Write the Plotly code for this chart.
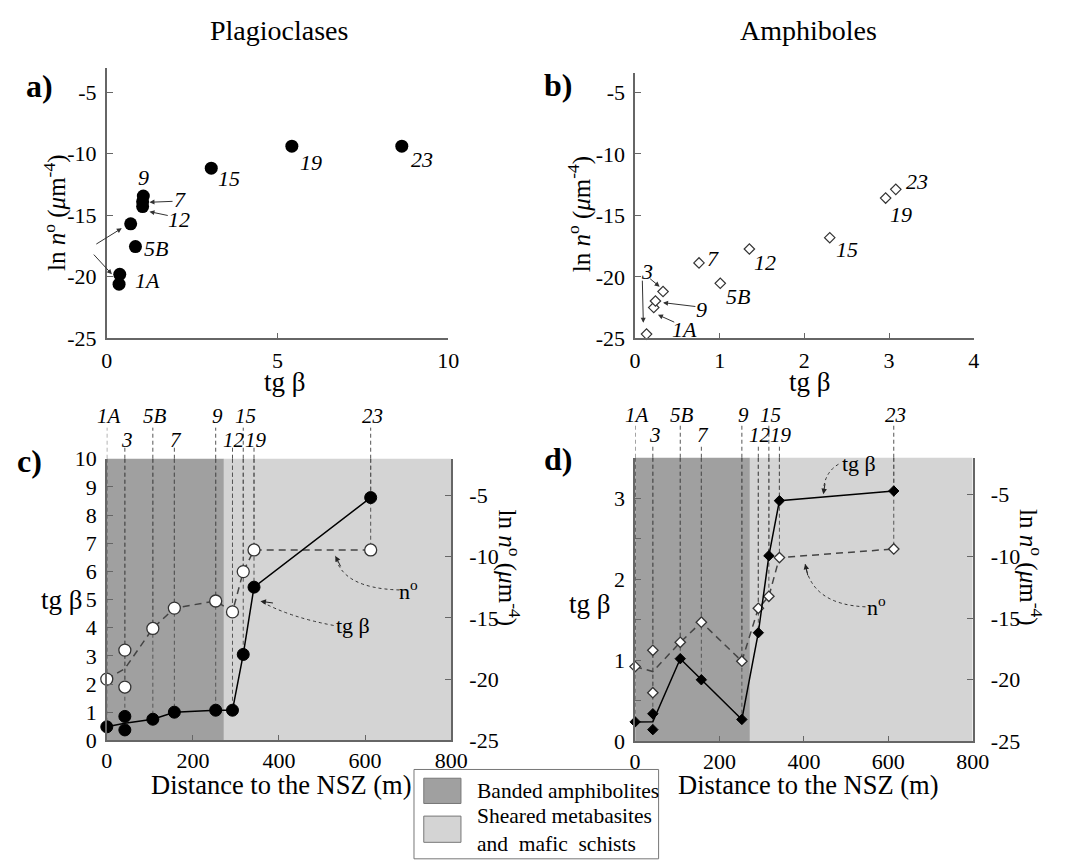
import plotly.graph_objects as go

FONT = "Liberation Serif"

# ---------------- data ----------------
samples = ["1A", "3", "5B", "7", "9", "12", "15", "19", "23"]
upper_row = ["1A", "5B", "9", "15", "23"]

# panel a : plagioclases (points incl. two values for sample 3)
a_names = ["1A", "3", "3", "5B", "7", "9", "12", "15", "19", "23"]
a_tgb = [0.36, 0.70, 0.38, 0.84, 1.05, 1.07, 1.05, 3.06, 5.42, 8.64]
a_ln = [-20.6, -15.7, -19.8, -17.55, -13.9, -13.45, -14.3, -11.18, -9.39, -9.39]

# panel b : amphiboles
b_names = ["1A", "3", "3", "5B", "7", "9", "12", "15", "19", "23"]
b_tgb = [0.22, 0.33, 0.135, 1.006, 0.755, 0.24, 1.35, 2.30, 2.96, 3.08]
b_ln = [-22.5, -21.2, -24.66, -20.53, -18.87, -21.97, -17.74, -16.82, -13.6, -12.89]

# panels c,d : distance to the NSZ (m)
distance = [0, 42, 107, 157, 253, 292, 317, 342, 613]
c_tgb = [[0.48], [0.85, 0.37], [0.75], [1.0], [1.07], [1.07], [3.05], [5.44], [8.62]]
c_ln = [[-20.0], [-17.63, -20.65], [-15.86], [-14.2], [-13.62], [-14.51], [-11.22], [-9.45], [-9.45]]
d_tgb = [[0.24], [0.34, 0.144], [1.02], [0.76], [0.27], [1.34], [2.29], [2.97], [3.09]]
d_ln = [[-18.94], [-17.62, -21.06], [-16.97], [-15.34], [-18.5], [-14.21], [-13.24], [-10.1], [-9.4]]
banded_limit = 272

ln_ticks = [-5, -10, -15, -20, -25]
ln_ticktext = ["-5", "-10", "-15", "-20", "-25"]

# ---------------- layout constants ----------------
W, H = 1065, 866
DARK = "#a0a0a0"
LIGHT = "#d4d4d4"
AXC = "#666666"
YT = "ln <i>n</i><sup>o</sup> (<i>μ</i>m<sup>-4</sup>)"
TICKSIZE = 22


def px(x):
    return x / W


def py(y):
    return 1 - y / H


def axis(**kw):
    d = dict(showline=True, linecolor=AXC, linewidth=1.5, ticks="inside", ticklen=6,
             tickcolor=AXC, tickwidth=1, showgrid=False, zeroline=False,
             tickfont=dict(family=FONT, size=TICKSIZE, color="black"), fixedrange=True)
    d.update(kw)
    return d


fig = go.Figure()

# ---- panel a ----
fig.add_trace(go.Scatter(x=a_tgb, y=a_ln, mode="markers", xaxis="x", yaxis="y",
                         marker=dict(color="black", size=13), cliponaxis=False,
                         showlegend=False, hoverinfo="skip"))
# ---- panel b ----
fig.add_trace(go.Scatter(x=b_tgb, y=b_ln, mode="markers", xaxis="x2", yaxis="y2",
                         marker=dict(color="white", size=8, symbol="diamond",
                                     line=dict(color="#333", width=1.2)),
                         cliponaxis=False, showlegend=False, hoverinfo="skip"))

shapes = []
annotations = []


def mean(v):
    return sum(v) / len(v)


# background zones (drawn first, below everything)
for xa, ya in [("x3", "y3 domain"), ("x4", "y5 domain")]:
    shapes.append(dict(type="rect", xref=xa, yref=ya, x0=0, x1=banded_limit, y0=0, y1=1,
                       fillcolor=DARK, line=dict(width=0), layer="below"))
    shapes.append(dict(type="rect", xref=xa, yref=ya, x0=banded_limit, x1=800, y0=0, y1=1,
                       fillcolor=LIGHT, line=dict(width=0), layer="below"))

GUIDE = dict(color="#555", width=1, dash="4px,3px")


def distance_panel(xa, yln, ytg, tgb, ln, ln_top, tg_top, marker_sym, msize):
    # vertical guides inside the plot, below the traces (start at top so dashes align)
    for d, t, l in zip(distance, tgb, ln):
        shapes.append(dict(type="line", xref=xa, yref=yln, x0=d, x1=d, y0=ln_top,
                           y1=min(l), line=GUIDE, layer="below"))
        shapes.append(dict(type="line", xref=xa, yref=ytg, x0=d, x1=d, y0=tg_top,
                           y1=min(t), line=GUIDE, layer="below"))
    # n° dashed line + markers
    fig.add_trace(go.Scatter(x=distance, y=[mean(v) for v in ln], mode="lines",
                             xaxis=xa, yaxis=yln,
                             line=dict(color="#444", width=1.5, dash="7px,5px"),
                             showlegend=False, hoverinfo="skip"))
    mx, my = [], []
    for d, l in zip(distance, ln):
        for v in l:
            mx.append(d)
            my.append(v)
    fig.add_trace(go.Scatter(x=mx, y=my, mode="markers", xaxis=xa, yaxis=yln,
                             marker=dict(color="white", size=msize, symbol=marker_sym,
                                         line=dict(color="#333", width=1.3)),
                             cliponaxis=False, showlegend=False, hoverinfo="skip"))
    # tg β solid line + markers
    fig.add_trace(go.Scatter(x=distance, y=[mean(v) for v in tgb], mode="lines",
                             xaxis=xa, yaxis=ytg, line=dict(color="black", width=1.5),
                             showlegend=False, hoverinfo="skip"))
    mx, my = [], []
    for d, t in zip(distance, tgb):
        for v in t:
            mx.append(d)
            my.append(v)
    fig.add_trace(go.Scatter(x=mx, y=my, mode="markers", xaxis=xa, yaxis=ytg,
                             marker=dict(color="black", size=msize, symbol=marker_sym,
                                         line=dict(color="black", width=1)),
                             cliponaxis=False, showlegend=False, hoverinfo="skip"))


distance_panel("x3", "y3", "y4", c_tgb, c_ln, -2, 10, "circle", 12)
distance_panel("x4", "y5", "y6", d_tgb, d_ln, -2, 3.5, "diamond", 8)

# guides above plots and sample labels
for xa, ytop, up_end, lo_end, up_lab, lo_lab in [
        ("x3", py(460), py(428), py(447), py(416), py(441)),
        ("x4", py(459), py(425), py(445), py(415), py(436))]:
    for s, d in zip(samples, distance):
        up = s in upper_row
        shapes.append(dict(type="line", xref=xa, yref="paper", x0=d, x1=d,
                           y0=ytop, y1=up_end if up else lo_end, line=GUIDE))
        annotations.append(dict(xref=xa, yref="paper", x=d, y=up_lab if up else lo_lab,
                                text="<i>%s</i>" % s, showarrow=False, xshift=2,
                                font=dict(family=FONT, size=21, color="black")))

# point labels panel a
a_labels = [("23", 9.23, -10.45), ("19", 5.98, -10.71), ("15", 3.59, -12.03),
            ("9", 1.08, -11.95), ("7", 2.13, -13.69), ("12", 2.11, -15.32),
            ("3", -0.61, -17.56), ("5B", 1.44, -17.69), ("1A", 1.2, -20.27)]
for t, x, y in a_labels:
    annotations.append(dict(xref="x", yref="y", x=x, y=y, text="<i>%s</i>" % t,
                            showarrow=False, font=dict(family=FONT, size=22, color="black")))
a_arrows = [(1.97, -13.87, 1.25, -13.95), (1.83, -15.05, 1.25, -14.71),
            (-0.35, -17.42, 0.44, -16.06), (-0.42, -18.08, 0.15, -19.8)]
for x0, y0, x1, y1 in a_arrows:
    annotations.append(dict(xref="x", yref="y", axref="x", ayref="y", x=x1, y=y1,
                            ax=x0, ay=y0, text="", showarrow=True, arrowhead=2,
                            arrowsize=1, arrowwidth=1, arrowcolor="#333"))

b_labels = [("23", 3.33, -12.29), ("19", 3.14, -14.92), ("15", 2.5, -17.82),
            ("12", 1.54, -18.87), ("7", 0.92, -18.48), ("5B", 1.21, -21.64),
            ("9", 0.79, -22.69), ("1A", 0.58, -24.27), ("3", 0.135, -19.53)]
for t, x, y in b_labels:
    annotations.append(dict(xref="x2", yref="y2", x=x, y=y, text="<i>%s</i>" % t,
                            showarrow=False, font=dict(family=FONT, size=22, color="black")))
b_arrows = [(0.73, -22.43, 0.33, -22.1), (0.48, -23.74, 0.27, -23.09),
            (0.16, -20.06, 0.29, -20.8), (0.085, -20.19, 0.097, -23.74)]
for x0, y0, x1, y1 in b_arrows:
    annotations.append(dict(xref="x2", yref="y2", axref="x2", ayref="y2", x=x1, y=y1,
                            ax=x0, ay=y0, text="", showarrow=True, arrowhead=2,
                            arrowsize=1, arrowwidth=1, arrowcolor="#333"))

# curved dotted pointers in c and d
pointers = [
    # xa, ya, text, text_x, text_y, start, ctrl, tip, arrow offset px
    ("x3", "y4", "n<sup>o</sup>", 702, 5.34, (680, 5.34), (546, 5.40), (531, 6.55), (6, 12)),
    ("x3", "y4", "tg β", 572, 4.08, (527, 4.08), (425, 4.37), (357, 4.94), (14, 2)),
    ("x4", "y6", "tg β", 530, 3.43, (482, 3.42), (446, 3.31), (446, 3.05), (2, -12)),
    ("x4", "y6", "n<sup>o</sup>", 573, 1.67, (546, 1.66), (418, 1.69), (403, 2.19), (3, 13)),
]
for xa, ya, t, tx, ty, s, c, tip, off in pointers:
    annotations.append(dict(xref=xa, yref=ya, x=tx, y=ty, text=t, showarrow=False,
                            font=dict(family=FONT, size=22, color="black")))
    shapes.append(dict(type="path", xref=xa, yref=ya,
                       path="M %g,%g Q %g,%g %g,%g" % (s[0], s[1], c[0], c[1], tip[0], tip[1]),
                       line=dict(color="#333", width=1, dash="dot")))
    annotations.append(dict(xref=xa, yref=ya, x=tip[0], y=tip[1], ax=off[0], ay=off[1],
                            text="", showarrow=True, arrowhead=2, arrowsize=1.1,
                            arrowwidth=1, arrowcolor="#222"))


# titles & axis titles
def txt(x, y, t, size=22, angle=0, bold=False, xanchor="center"):
    annotations.append(dict(xref="paper", yref="paper", x=px(x), y=py(y), text=t,
                            showarrow=False, textangle=angle, xanchor=xanchor,
                            yanchor="middle",
                            font=dict(family=FONT, size=size, color="black",
                                      weight="bold" if bold else "normal")))


txt(279, 19, "Plagioclases", 28)
txt(820, 19, "Amphiboles", 28)
txt(34, 76, "a)", 32, bold=True)
txt(564, 75, "b)", 32, bold=True)
txt(24, 462, "c)", 32, bold=True)
txt(564, 460, "d)", 32, bold=True)
txt(50, 207, YT, 25, angle=-90)
txt(587, 208, YT, 25, angle=-90)
txt(285, 381, "tg β", 27)
txt(822, 381, "tg β", 27)
txt(57, 605, "tg β", 27)
txt(597, 610, "tg β", 27)
txt(514, 572, YT, 25, angle=90)
txt(1047, 572, YT, 25, angle=90)
txt(282, 796, "Distance to the NSZ (m)", 26.5)
txt(820, 796, "Distance to the NSZ (m)", 26.5)

# legend box
shapes.append(dict(type="rect", xref="paper", yref="paper", x0=px(417), x1=px(667),
                   y0=py(872), y1=py(780), fillcolor="white", line=dict(color="#777", width=1)))
shapes.append(dict(type="rect", xref="paper", yref="paper", x0=px(427), x1=px(465),
                   y0=py(815), y1=py(789), fillcolor=DARK, line=dict(color="#777", width=1)))
shapes.append(dict(type="rect", xref="paper", yref="paper", x0=px(427), x1=px(465),
                   y0=py(855), y1=py(828), fillcolor=LIGHT, line=dict(color="#777", width=1)))
txt(479, 802, "Banded amphibolites", 21.5, xanchor="left")
annotations.append(dict(xref="paper", yref="paper", x=px(479), y=py(842),
                        text="Sheared metabasites<br>and  mafic  schists", showarrow=False,
                        xanchor="left", yanchor="middle", align="left",
                        font=dict(family=FONT, size=21.5, color="black")))

fig.update_layout(
    width=W, height=H, autosize=False, margin=dict(l=0, r=0, t=0, b=0),
    font=dict(family=FONT, size=22, color="black"),
    paper_bgcolor="white", plot_bgcolor="white", showlegend=False,
    xaxis=axis(domain=[px(103), px(452)], range=[0, 10], tickvals=[0, 5, 10],
               anchor="y", ticklabelstandoff=2),
    yaxis=axis(domain=[py(336), py(58)], range=[-25, -3.07], tickvals=ln_ticks,
               ticktext=ln_ticktext, anchor="x", ticklabelstandoff=4),
    xaxis2=axis(domain=[px(643), px(989)], range=[0, 4], tickvals=[0, 1, 2, 3, 4],
                anchor="y2", ticklabelstandoff=2),
    yaxis2=axis(domain=[py(336), py(62.7)], range=[-25, -3.42], tickvals=ln_ticks,
                ticktext=ln_ticktext, anchor="x2", ticklabelstandoff=4),
    xaxis3=axis(domain=[px(103), px(455)], range=[0, 800],
                tickvals=[0, 200, 400, 600, 800], anchor="y3", ticklabelstandoff=0),
    yaxis3=axis(domain=[py(750), py(460)], range=[-25, -2], tickvals=ln_ticks,
                ticktext=ln_ticktext, anchor="x3", side="right", ticklabelstandoff=12),
    yaxis4=axis(range=[0, 10], tickvals=list(range(11)), anchor="x3", overlaying="y3",
                side="left", ticklabelstandoff=4),
    xaxis4=axis(domain=[px(643), px(988)], range=[0, 800],
                tickvals=[0, 200, 400, 600, 800], anchor="y5", ticklabelstandoff=0),
    yaxis5=axis(domain=[py(751), py(459)], range=[-25, -2], tickvals=ln_ticks,
                ticktext=ln_ticktext, anchor="x4", side="right", ticklabelstandoff=12),
    yaxis6=axis(range=[0, 3.5], tickvals=[0, 0.5, 1, 1.5, 2, 2.5, 3],
                ticktext=["0", "", "1", "", "2", "", "3"], anchor="x4", overlaying="y5",
                side="left", ticklabelstandoff=4),
    shapes=shapes, annotations=annotations,
)

fig.write_html("out.html")
